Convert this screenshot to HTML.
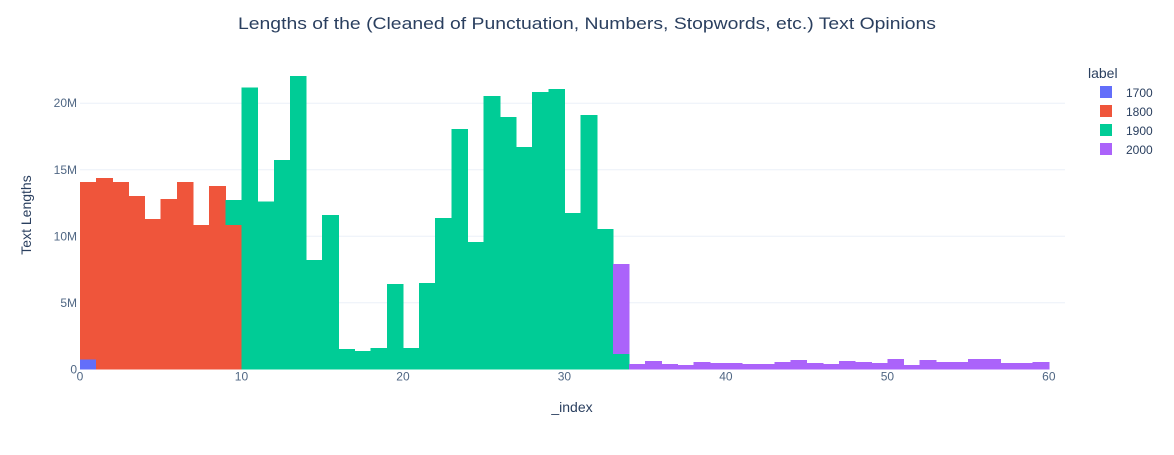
<!DOCTYPE html>
<html><head><meta charset="utf-8"><style>
body{margin:0;background:#fff;font-family:"Liberation Sans",sans-serif;}
svg text{font-family:"Liberation Sans",sans-serif;}
</style></head><body>
<svg id="chart" width="1174" height="450">
<text x="587" y="29" text-anchor="middle" font-size="17" textLength="698" lengthAdjust="spacingAndGlyphs" fill="#2a3f5f">Lengths of the (Cleaned of Punctuation, Numbers, Stopwords, etc.) Text Opinions</text>
<g id="grid"></g><g id="bars" shape-rendering="crispEdges"></g><g id="axes"></g>
<text x="572" y="412" text-anchor="middle" font-size="14" fill="#2a3f5f">_index</text>
<text transform="translate(31,215) rotate(-90)" text-anchor="middle" font-size="14" fill="#2a3f5f">Text Lengths</text>
<g id="legend"></g>
</svg>
<script>
const labels=["1700","1800","1900","2000"];
const colors=["#636efa","#ef553b","#00cc96","#ab63fa"];
const s1700=[0.75];
const s1800=[13.33,14.38,14.08,13.03,11.3,12.8,14.08,10.83,13.78,10.83];
const s1900=[1.9,21.2,12.6,15.74,22.05,8.2,11.58,1.53,1.38,1.6,6.41,1.6,6.49,11.38,18.05,9.58,20.55,18.97,16.7,20.85,21.07,11.75,19.12,10.55,1.15];
const s2000=[6.75,0.40,0.63,0.40,0.33,0.55,0.48,0.48,0.40,0.40,0.55,0.70,0.48,0.40,0.63,0.55,0.48,0.78,0.33,0.70,0.55,0.55,0.78,0.78,0.48,0.48,0.55];
const starts=[0,0,9,33];
const xTicks=[0,10,20,30,40,50,60];
const yTicks=[0,5,10,15,20];
const yTickLabels=["0","5M","10M","15M","20M"];
const NS="http://www.w3.org/2000/svg";
const X0=80,X1=1065,XMAX=61,Y0=369.3,YTOP=60,YMAX=23.25;
const xs=v=>X0+v*(X1-X0)/XMAX;
const ys=v=>Y0-v*(Y0-YTOP)/YMAX;
function mk(t,a,p){const e=document.createElementNS(NS,t);for(const k in a)e.setAttribute(k,a[k]);p.appendChild(e);return e;}
const grid=document.getElementById('grid'),bars=document.getElementById('bars'),axes=document.getElementById('axes'),leg=document.getElementById('legend');
yTicks.forEach((t,i)=>{
 if(t>0){const l=mk('line',{x1:X0,x2:X1,y1:ys(t),y2:ys(t),stroke:'#ebf0f8','stroke-width':1},grid);
 
 }
 const tx=mk('text',{x:X0-3,y:ys(t)+4,'text-anchor':'end','font-size':12,fill:'#506784'},axes);
 tx.textContent=yTickLabels[i];
 
 
});
xTicks.forEach(t=>{
 const tx=mk('text',{x:xs(t),y:Y0+11,'text-anchor':'middle','font-size':12,fill:'#506784'},axes);
 tx.textContent=t;
 
 
});
const series=[s1700,s1800,s1900,s2000];
const stack={};
series.forEach((s,si)=>{
 s.forEach((v,j)=>{
  const idx=starts[si]+j;const base=stack[idx]||0;
  const r=mk('rect',{x:xs(idx),y:ys(base+v),width:xs(idx+1)-xs(idx)+0.6,height:ys(base)-ys(base+v),fill:colors[si]},bars);
  
  
  stack[idx]=base+v;
 });
});
const lt=mk('text',{x:1088,y:78,'font-size':14,fill:'#2a3f5f'},leg);
lt.textContent='label';


labels.forEach((l,i)=>{
 const y=92+i*19;
 const g=mk('g',{},leg);
 
 
 mk('rect',{x:1100,y:y-6,width:12,height:12,fill:colors[i]},g);
 const t=mk('text',{x:1126,y:y+5,'font-size':12,fill:'#2a3f5f'},g);
 t.textContent=l;
});
</script>
</body></html>
